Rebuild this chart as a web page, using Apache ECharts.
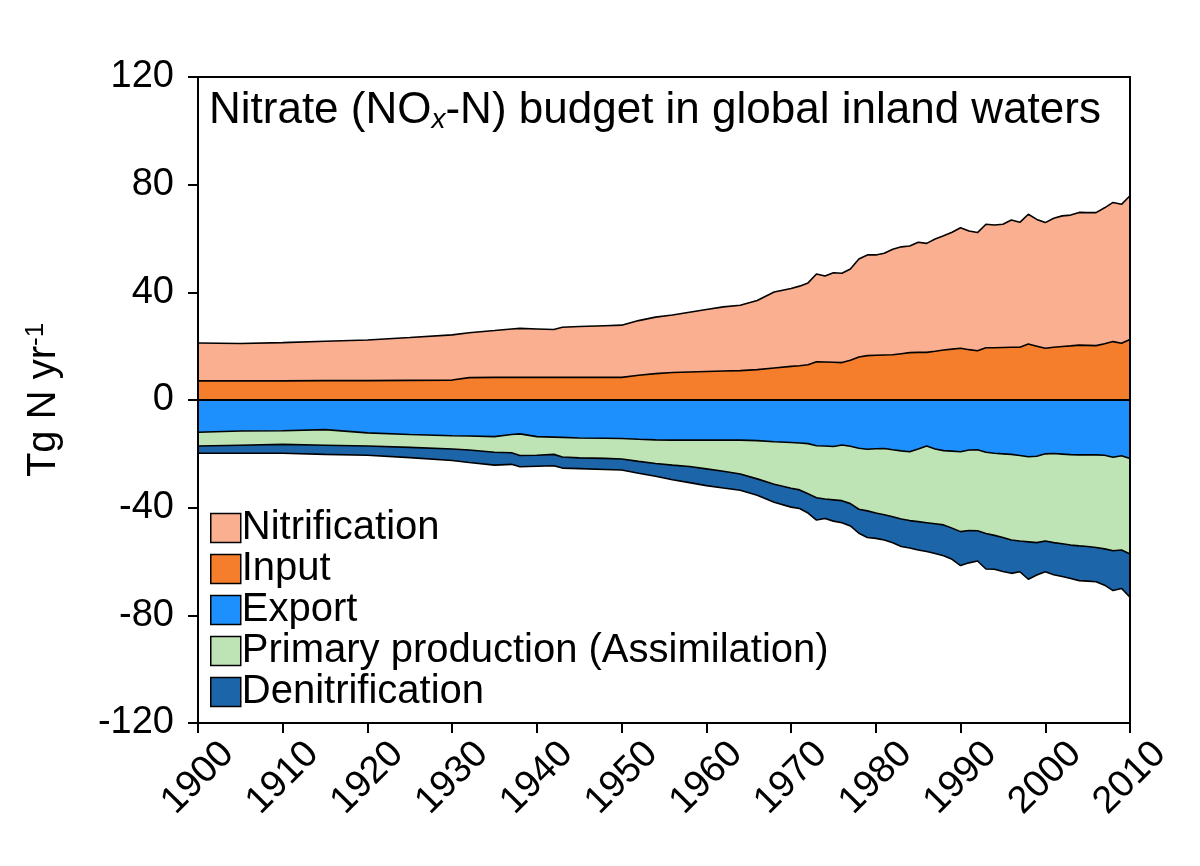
<!doctype html>
<html>
    <head>
        <meta charset="utf-8">
        <title>Nitrate budget - ECHARTS</title>
        <style>
            html, body { margin: 0; padding: 0; background: #fff; }
            #main { width: 1200px; height: 866px; }
        </style>
    </head>
    <body>
        <div id="main"></div>
        <script src="https://cdn.jsdelivr.net/npm/echarts@6/dist/echarts.min.js"></script>
        <script>

            // years (denser where the curves wiggle)
            var years = [1900, 1905, 1910, 1915, 1920, 1925, 1930, 1932, 1935, 1937, 1938, 1940, 1942, 1943, 1945, 1948,
                1950, 1952, 1954, 1956, 1958, 1960, 1962, 1964, 1966, 1968, 1970, 1971, 1972, 1973, 1974, 1975,
                1976, 1977, 1978, 1979, 1980, 1981, 1982, 1983, 1984, 1985, 1986, 1987, 1988, 1989, 1990, 1991,
                1992, 1993, 1994, 1995, 1996, 1997, 1998, 1999, 2000, 2001, 2002, 2003, 2004, 2005, 2006, 2007,
                2008, 2009, 2010];

            // layer thickness, Tg N / yr (sinks negative)
            var input = [7.1, 7.1, 7.1, 7.2, 7.2, 7.3, 7.4, 8.3, 8.4, 8.4, 8.4, 8.4, 8.4, 8.4, 8.4, 8.4,
                8.4, 9.2, 9.8, 10.2, 10.4, 10.6, 10.8, 10.9, 11.3, 11.9, 12.5, 12.7, 13.1, 14.2, 14.1, 14.0,
                13.9, 14.8, 16.0, 16.5, 16.6, 16.7, 16.8, 17.2, 17.6, 17.7, 17.7, 18.1, 18.6, 18.9, 19.2, 18.7,
                18.3, 19.4, 19.4, 19.5, 19.6, 19.6, 20.8, 20.0, 19.2, 19.6, 19.9, 20.1, 20.4, 20.3, 20.2, 20.9,
                21.7, 21.1, 22.5];

            var nitrification = [14.1, 13.9, 14.2, 14.6, 15.1, 15.9, 16.8, 16.7, 17.4, 18.0, 18.2, 18.0, 17.8, 18.6, 18.9, 19.2,
                19.4, 20.3, 21.0, 21.4, 22.2, 23.0, 23.8, 24.3, 25.7, 28.2, 28.9, 29.6, 30.4, 32.6, 32.0, 33.3,
                33.2, 33.9, 36.4, 37.4, 37.3, 37.8, 39.2, 39.7, 39.6, 40.9, 40.5, 41.7, 42.4, 43.4, 44.8, 44.1,
                43.9, 45.9, 45.6, 45.8, 47.3, 46.4, 48.2, 47.1, 46.7, 47.9, 48.5, 48.6, 49.3, 49.3, 49.4, 50.5,
                51.7, 51.6, 53.4];

            var exportN = [-12.0, -11.5, -11.4, -11.0, -12.2, -12.8, -13.3, -13.4, -13.6, -12.8, -12.6, -13.6, -13.8, -13.9, -14.1, -14.2,
                -14.3, -14.6, -14.8, -14.9, -14.9, -14.9, -14.9, -14.9, -15.1, -15.5, -15.8, -16.0, -16.2, -17.0, -17.1, -17.3,
                -16.7, -17.2, -17.9, -18.3, -18.1, -18.0, -18.5, -18.9, -19.2, -18.2, -17.1, -18.2, -18.8, -19.0, -19.2, -18.6,
                -18.5, -19.4, -19.8, -20.0, -20.2, -20.6, -21.1, -20.9, -20.0, -19.9, -20.1, -20.3, -20.4, -20.4, -20.4, -20.5,
                -21.3, -20.7, -21.7];

            var primary = [-5.1, -5.3, -5.1, -5.8, -4.9, -4.8, -4.9, -5.2, -5.8, -6.8, -8.0, -6.9, -6.4, -7.3, -7.4, -7.5,
                -7.6, -8.2, -8.8, -9.3, -9.8, -10.7, -11.6, -12.6, -14.2, -15.8, -17.0, -17.4, -18.6, -19.3, -19.7, -19.8,
                -20.7, -21.3, -22.7, -22.9, -23.9, -24.6, -24.9, -25.3, -25.6, -27.0, -28.5, -27.8, -27.6, -28.6, -29.7, -29.9,
                -30.1, -30.2, -30.5, -31.1, -31.8, -31.8, -31.6, -32.1, -32.4, -33.1, -33.3, -33.6, -33.8, -34.0, -34.4, -34.8,
                -34.7, -35.0, -35.5];

            var denitrification = [-2.7, -3.0, -3.3, -3.4, -3.4, -3.8, -4.3, -4.6, -4.8, -4.3, -4.2, -4.1, -4.2, -4.1, -4.0, -4.1,
                -4.1, -4.4, -4.7, -5.4, -6.0, -6.2, -6.2, -6.0, -6.1, -6.7, -7.0, -6.9, -7.2, -8.3, -7.2, -7.9,
                -8.2, -8.3, -8.9, -9.9, -9.4, -9.4, -9.6, -10.2, -10.2, -10.5, -10.7, -11.0, -11.5, -11.6, -12.6, -12.0,
                -11.2, -13.2, -12.6, -12.6, -12.4, -11.4, -13.9, -12.0, -11.4, -11.9, -12.2, -12.4, -12.9, -12.9, -12.7, -13.5,
                -14.8, -14.3, -16.1];

            var legendNames = ['Nitrification', 'Input', 'Export', 'Primary production (Assimilation)', 'Denitrification'];

            var myChart = echarts.init(document.getElementById('main'));

            // running sum of several layers -> [year, edge] pairs
            function edge(){
                var layers = arguments;
                return years.map(function(y, i){
                    var s = 0;
                    for(var k = 0; k < layers.length; k++) s += layers[k][i];
                    return [y, Math.round(s * 10) / 10];
                });
            }

            // each band is an area filled to zero; inner bands are drawn over outer ones
            function band(name, data, color){
                return {
                    name: name,
                    type: 'line',
                    data: data,
                    showSymbol: false,
                    symbol: 'none',
                    silent: true,
                    itemStyle: { color: color },
                    lineStyle: { color: '#000', width: 1.6 },
                    areaStyle: { color: color, opacity: 1 }
                };
            }

            var font = 'Liberation Sans, Arial, Helvetica, sans-serif';

            // plain black axis line with nothing else on it (frame and zero line)
            function frameX(pos, onZero){
                return {
                    type: 'value', position: pos, min: 1900, max: 2010, z: 10,
                    splitLine: { show: false },
                    axisLine: { show: true, onZero: onZero, lineStyle: { color: '#000', width: 2 } },
                    axisTick: { show: false },
                    axisLabel: { show: false }
                };
            }

            myChart.setOption({
                animation: false,
                textStyle: { fontFamily: font, color: '#000' },
                title: {
                    left: 204,
                    top: 83,
                    text: '{a|Nitrate (NO}{b|x}{a|-N) budget in global inland waters}',
                    textStyle: {
                        fontWeight: 'normal',
                        rich: {
                            a: { fontSize: 44, lineHeight: 46, color: '#000', fontFamily: font, fontWeight: 'normal' },
                            b: { fontSize: 28, lineHeight: 28, color: '#000', fontFamily: font, fontWeight: 'normal', fontStyle: 'italic', verticalAlign: 'bottom' }
                        }
                    }
                },
                legend: {
                    orient: 'vertical',
                    left: 205,
                    top: 503,
                    data: legendNames,
                    icon: 'rect',
                    itemWidth: 30,
                    itemHeight: 29,
                    itemGap: 1,
                    itemStyle: { borderColor: '#000', borderWidth: 1.5 },
                    textStyle: { fontSize: 40, color: '#000', fontFamily: font, padding: [0, 0, 0, -4] },
                    selectedMode: false
                },
                grid: { left: 198, right: 70, top: 77, bottom: 143 },
                xAxis: [{
                    type: 'value',
                    min: 1900,
                    max: 2010,
                    interval: 10,
                    z: 10,
                    splitLine: { show: false },
                    axisLine: { show: true, onZero: false, lineStyle: { color: '#000', width: 2 } },
                    axisTick: { show: true, inside: false, length: 10, lineStyle: { color: '#000', width: 2 } },
                    axisLabel: {
                        rotate: 45, fontSize: 38, color: '#000', margin: 55, align: 'center', verticalAlign: 'middle',
                        formatter: function(v){ return String(v); }
                    }
                }, frameX('top', false), frameX('bottom', true)],
                yAxis: [{
                    type: 'value',
                    min: -120,
                    max: 120,
                    interval: 40,
                    z: 10,
                    splitLine: { show: false },
                    axisLine: { show: true, onZero: false, lineStyle: { color: '#000', width: 2 } },
                    axisTick: { show: true, inside: false, length: 10, lineStyle: { color: '#000', width: 2 } },
                    axisLabel: { fontSize: 38, color: '#000', margin: 24 },
                    name: '{a|Tg N yr}{b|-1}',
                    nameLocation: 'middle',
                    nameRotate: 90,
                    nameGap: 133,
                    nameTextStyle: {
                        rich: {
                            a: { fontSize: 40, lineHeight: 42, color: '#000', fontFamily: font },
                            b: { fontSize: 26, lineHeight: 26, color: '#000', fontFamily: font, verticalAlign: 'top' }
                        }
                    }
                }, {
                    type: 'value',
                    position: 'right',
                    min: -120,
                    max: 120,
                    z: 10,
                    splitLine: { show: false },
                    axisLine: { show: true, onZero: false, lineStyle: { color: '#000', width: 2 } },
                    axisTick: { show: false },
                    axisLabel: { show: false }
                }],
                series: [
                    band('Nitrification', edge(input, nitrification), '#F9AF90'),
                    band('Input', edge(input), '#F47E2B'),
                    band('Denitrification', edge(exportN, primary, denitrification), '#1D65A9'),
                    band('Primary production (Assimilation)', edge(exportN, primary), '#BEE3B5'),
                    band('Export', edge(exportN), '#1E90FD')
                ]
            });

        </script>
    </body>
</html>
